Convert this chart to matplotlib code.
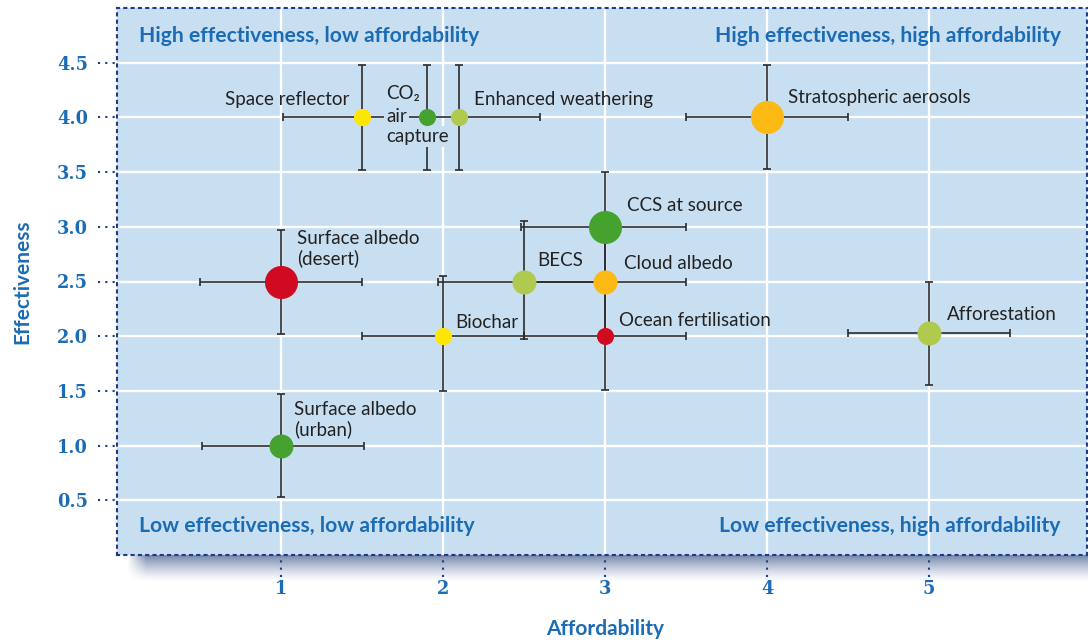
import numpy as np
import matplotlib
matplotlib.use("Agg")
import matplotlib.pyplot as plt

# ---------------- data ----------------
names = ["Space reflector", "CO2 air capture", "Enhanced weathering",
         "Stratospheric aerosols", "CCS at source", "BECS", "Cloud albedo",
         "Surface albedo\n(desert)", "Biochar", "Ocean fertilisation",
         "Afforestation", "Surface albedo\n(urban)"]
affordability = [1.5, 1.9, 2.1, 4.0, 3.0, 2.5, 3.0, 1.0, 2.0, 3.0, 5.0, 1.0]
effectiveness = [4.0, 4.0, 4.0, 4.0, 3.0, 2.5, 2.5, 2.5, 2.0, 2.0, 2.03, 1.0]
afford_err_low = [0.49, 0.0, 0.0, 0.5, 0.52, 0.53, 0.5, 0.5, 0.5, 0.5, 0.5, 0.49]
afford_err_high = [0.6, 0.0, 0.5, 0.5, 0.5, 0.5, 0.5, 0.5, 0.5, 0.5, 0.5, 0.51]
effect_err_low = [0.48, 0.48, 0.48, 0.47, 0.5, 0.53, 0.5, 0.48, 0.5, 0.49, 0.48, 0.47]
effect_err_high = [0.48, 0.48, 0.48, 0.48, 0.5, 0.55, 0.5, 0.47, 0.55, 0.5, 0.47, 0.47]
x_ticks = [1, 2, 3, 4, 5]
y_ticks = [0.5, 1.0, 1.5, 2.0, 2.5, 3.0, 3.5, 4.0, 4.5]
quadrants = ["High effectiveness, low affordability",
             "High effectiveness, high affordability",
             "Low effectiveness, low affordability",
             "Low effectiveness, high affordability"]

# ---------------- styles ----------------
YELLOW, GREEN, LGREEN, ORANGE, RED = "#ffe600", "#45a22e", "#afca4e", "#fdb913", "#cf0a21"
point_colors = [YELLOW, GREEN, LGREEN, ORANGE, GREEN, LGREEN, ORANGE, RED,
                YELLOW, RED, LGREEN, GREEN]
L, M, S = 23.8, 17.3, 12.3
point_sizes = [S, S, S, L, L, M, M, L, S, S, M, M]
# label offsets in pixels (dx right, dy up) and alignment
label_px = [(-13, 18, "right"), None, (15, 18, "left"), (21, 20, "left"),
            (22, 21, "left"), (13, 21, "left"), (19, 18, "left"),
            (16, 33, "left"), (12, 14, "left"), (14, 16, "left"),
            (18, 18, "left"), (13, 26, "left")]

BG = "#c8dff2"
BLUE = "#1b6cb4"
NAVY = "#1f3b87"
TXT = "#222222"
DOT = (0, (1, 2.5))
ANN_FS = 13.5

W, H = 1088, 642
fig = plt.figure(figsize=(W / 100, H / 100), dpi=100)

ax_l, ax_r, ax_t, ax_b = 117, 1087, 8, 555
# shadow under the panel
sh = fig.add_axes([125 / W, (H - 582) / H, (W - 125) / W, 27 / H])
sh.set_axis_off()
grad = np.zeros((40, 200, 4))
grad[..., 0], grad[..., 1], grad[..., 2] = 0.33, 0.42, 0.60
vy = np.linspace(0.85, 0.0, 40) ** 1.3
vx = np.clip(np.arange(200) / 4.0, 0, 1)
grad[..., 3] = vy[:, None] * vx[None, :]
sh.imshow(grad, aspect="auto", extent=[0, 1, 0, 1], interpolation="bilinear")
sh.set_xlim(0, 1)
sh.set_ylim(0, 1)

ax = fig.add_axes([ax_l / W, (H - ax_b) / H, (ax_r - ax_l) / W, (ax_b - ax_t) / H])
ax.set_facecolor(BG)
ax.set_xlim(-0.013, 5.975)
ax.set_ylim(0, 5)

for v in x_ticks:
    ax.axvline(v, color="white", lw=1.7, zorder=1)
for v in y_ticks:
    ax.axhline(v, color="white", lw=1.7, zorder=1)

for sp in ax.spines.values():
    sp.set_linestyle(DOT)
    sp.set_linewidth(1.5)
    sp.set_color(NAVY)

ax.set_xticks(x_ticks)
ax.set_yticks(y_ticks)
ax.set_xticklabels([str(v) for v in x_ticks])
ax.set_yticklabels([f"{v:.1f}" for v in y_ticks])
ax.tick_params(length=0)
ax.tick_params(axis="y", pad=21)
ax.tick_params(axis="x", pad=18)
for lab in ax.get_xticklabels() + ax.get_yticklabels():
    lab.set_fontfamily("DejaVu Serif")
    lab.set_fontweight("bold")
    lab.set_fontsize(12.8)
    lab.set_color(BLUE)

# dotted tick marks
ytr = ax.get_yaxis_transform()
xtr = ax.get_xaxis_transform()
for v in y_ticks:
    ax.plot([-0.02, 0], [v, v], transform=ytr, clip_on=False, color=NAVY,
            lw=1.5, ls=DOT, zorder=5)
for v in x_ticks:
    ax.plot([v, v], [-0.04, 0], transform=xtr, clip_on=False, color=NAVY,
            lw=1.5, ls=DOT, zorder=5)

ax.set_xlabel("Affordability", fontfamily="Lato", fontweight="bold",
              fontsize=15, color=BLUE)
ax.set_ylabel("Effectiveness", fontfamily="Lato", fontweight="bold",
              fontsize=15, color=BLUE)
ax.xaxis.set_label_coords(0.503, -0.117)
ax.yaxis.set_label_coords(-0.087, 0.5)

# error bars
xerr = np.array([afford_err_low, afford_err_high])
yerr = np.array([effect_err_low, effect_err_high])
ax.errorbar(affordability, effectiveness, xerr=xerr, yerr=yerr, fmt="none",
            ecolor="#2b2b2b", elinewidth=1.2, capsize=3.2, capthick=1.2, zorder=2)

for x, y, c, s in zip(affordability, effectiveness, point_colors, point_sizes):
    ax.plot([x], [y], "o", ms=s, color=c, mec="none", zorder=4)

k = 0.72
for i, name in enumerate(names):
    if label_px[i] is None:
        continue
    dx, dy, ha = label_px[i]
    ax.annotate(name, (affordability[i], effectiveness[i]),
                xytext=(dx * k, dy * k), textcoords="offset points",
                ha=ha, va="center", fontfamily="Lato", fontsize=ANN_FS,
                color=TXT, linespacing=1.15, zorder=3)

# CO2 air capture label (3 lines, with background masking the lines)
i = 1
for txt, dy, mask in [("CO₂", 24, False), ("air", 1, True), ("capture", -19, True)]:
    kw = dict(bbox=dict(boxstyle="square,pad=0.1", fc=BG, ec="none")) if mask else {}
    ax.annotate(txt, (affordability[i], effectiveness[i]),
                xytext=(-41 * k, dy * k), textcoords="offset points",
                ha="left", va="center", fontfamily=["Lato", "DejaVu Sans"],
                fontsize=ANN_FS, color=TXT, zorder=3, **kw)

qkw = dict(transform=ax.transAxes, fontfamily="Lato", fontweight="bold",
           fontsize=15.2, color=BLUE, va="center", zorder=6)
ax.text(0.0227, 0.949, quadrants[0], ha="left", **qkw)
ax.text(0.973, 0.949, quadrants[1], ha="right", **qkw)
ax.text(0.0227, 0.053, quadrants[2], ha="left", **qkw)
ax.text(0.973, 0.053, quadrants[3], ha="right", **qkw)

fig.savefig("out.png", dpi=100)
